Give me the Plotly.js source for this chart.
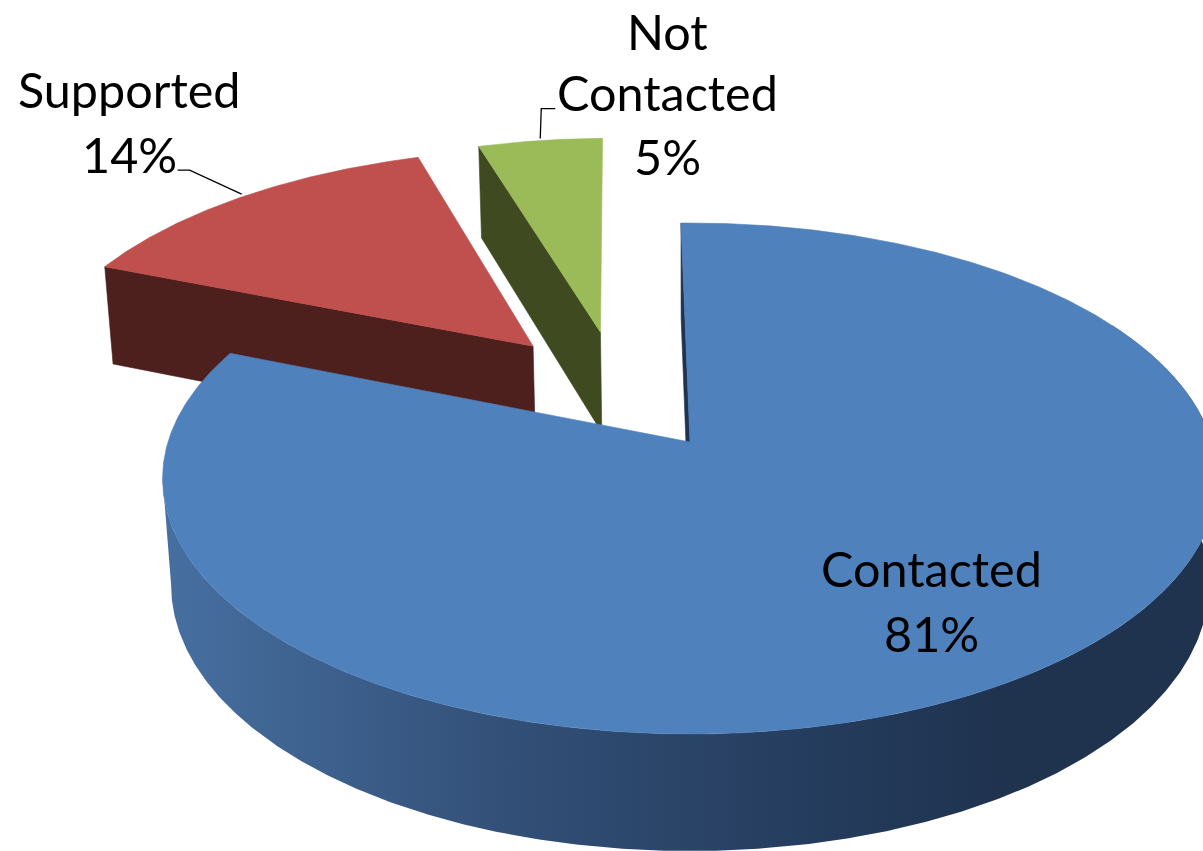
<!DOCTYPE html>
<html><head><meta charset="utf-8">
<script src="https://cdn.plot.ly/plotly-3.0.1.min.js"></script>
<style>html,body{margin:0;padding:0;background:#fff}#c{width:1203px;height:851px}</style>
</head><body><div id="c"></div>
<script>
const categories = ['Contacted', 'Supported', 'Not Contacted'];
const values = [81.4, 14.0, 4.6];
const topColors = ['#4f81bd', '#c0504d', '#9bbb59'];
const sideColors = ['#1f3350', '#4d1f1d', '#3f4a21'];
const explodeU = [0, -0.318, -0.183];
const explodeV = [0, -0.405, -0.468];
const labelLines = [['Contacted'], ['Supported'], ['Not', 'Contacted']];
const labelX = [931, 129, 667];
const labelTopY = [568, 89, 27];

// perspective projection of the pie disc
const AX = 690, AY = 442, R = 522, S = 250.3, K = 1 / 7, D = 106.8, M = 0.016;
const START = -1.13;
function proj(u, v, z) {
  const w = 1 - K * v + M * z;
  return [AX + R * u / w, AY + (S * v + D * z) / w];
}
const total = values.reduce((a, b) => a + b, 0);
let acc = START;
const slices = values.map((val, i) => {
  const a0 = acc, a1 = acc + val / total * 360;
  acc = a1;
  return {a0, a1, eu: explodeU[i], ev: explodeV[i], i};
});
function rimPt(s, deg, z) {
  const r = deg * Math.PI / 180;
  return proj(s.eu + Math.sin(r), s.ev - Math.cos(r), z);
}
function arc(s, d0, d1, z) {
  const n = Math.max(2, Math.ceil(Math.abs(d1 - d0) / 0.5));
  const out = [];
  for (let k = 0; k <= n; k++) out.push(rimPt(s, d0 + (d1 - d0) * k / n, z));
  return out;
}
function poly(pts, color, extra) {
  const closed = pts.concat([pts[0]]);
  return Object.assign({
    type: 'scatter', mode: 'lines', x: closed.map(p => p[0]), y: closed.map(p => p[1]),
    fill: 'toself', fillcolor: color, line: {width: 0.6, color: color}, hoverinfo: 'skip', showlegend: false
  }, extra || {});
}
const traces = [];
const [blue, red, green] = slices;
// red slice: radial side face then top
traces.push(poly([proj(red.eu, red.ev, 0), rimPt(red, red.a0, 0), rimPt(red, red.a0, 1), proj(red.eu, red.ev, 1)], sideColors[1]));
traces.push(poly([proj(red.eu, red.ev, 0)].concat(arc(red, red.a0, red.a1, 0)), topColors[1]));
// green slice
traces.push(poly([proj(green.eu, green.ev, 0), rimPt(green, green.a0, 0), rimPt(green, green.a0, 1), proj(green.eu, green.ev, 1)], sideColors[2]));
traces.push(poly([proj(green.eu, green.ev, 0)].concat(arc(green, green.a0, green.a1, 0)), topColors[2]));
// blue slice: rim with gradient (up to the left silhouette tangent), radial sliver, top
const TANGENT = 262;
const rim = arc(blue, 60, TANGENT, 0).concat(arc(blue, TANGENT, 60, 1));
traces.push(poly(rim, '#2b4a73', {
  line: {width: 0},
  fillgradient: {type: 'horizontal', start: 170, stop: 1210,
    colorscale: [[0, '#466fa0'], [0.317, '#335078'], [0.606, '#253d5e'], [0.798, '#1f334f'], [1, '#1f334f']]}
}));
traces.push(poly([proj(0, 0, 0), rimPt(blue, blue.a0, 0), rimPt(blue, blue.a0, 1), proj(0, 0, 1)], sideColors[0]));
traces.push(poly([proj(0, 0, 0)].concat(arc(blue, blue.a0, blue.a1, 0)), topColors[0]));

// leader lines from each small slice's mid-arc
const redP = rimPt(red, (red.a0 + red.a1) / 2, 0);
traces.push({type: 'scatter', mode: 'lines', x: [redP[0], redP[0] - 52, redP[0] - 64], y: [redP[1] - 3, redP[1] - 27, redP[1] - 27],
  line: {color: '#000', width: 1.3}, hoverinfo: 'skip', showlegend: false});
const greenP = rimPt(green, (green.a0 + green.a1) / 2, 0);
traces.push({type: 'scatter', mode: 'lines', x: [greenP[0], greenP[0] + 1, greenP[0] + 15], y: [greenP[1] - 2, greenP[1] - 32, greenP[1] - 32],
  line: {color: '#000', width: 1.3}, hoverinfo: 'skip', showlegend: false});

const FONT = {family: 'Lato, Carlito, sans-serif', size: 48.5, color: '#000'};
const LINE = 64.5;
const MIN_Y = 31; // keeps the top label's text box inside the page
const annotations = [];
categories.forEach((c, i) => {
  const lines = labelLines[i].concat([Math.round(values[i] / total * 100) + '%']);
  lines.forEach((t, j) => annotations.push({
    x: labelX[i], y: Math.max(MIN_Y, labelTopY[i] + j * LINE), xref: 'x', yref: 'y', text: t, showarrow: false,
    xanchor: 'center', yanchor: 'middle', font: FONT, align: 'center'
  }));
});
Plotly.newPlot('c', traces, {
  width: 1203, height: 851, margin: {l: 0, r: 0, t: 0, b: 0},
  paper_bgcolor: '#fff', plot_bgcolor: '#fff', showlegend: false,
  xaxis: {range: [0, 1203], visible: false, fixedrange: true},
  yaxis: {range: [851, 0], visible: false, fixedrange: true},
  annotations
}, {displayModeBar: false, staticPlot: true});
</script></body></html>
